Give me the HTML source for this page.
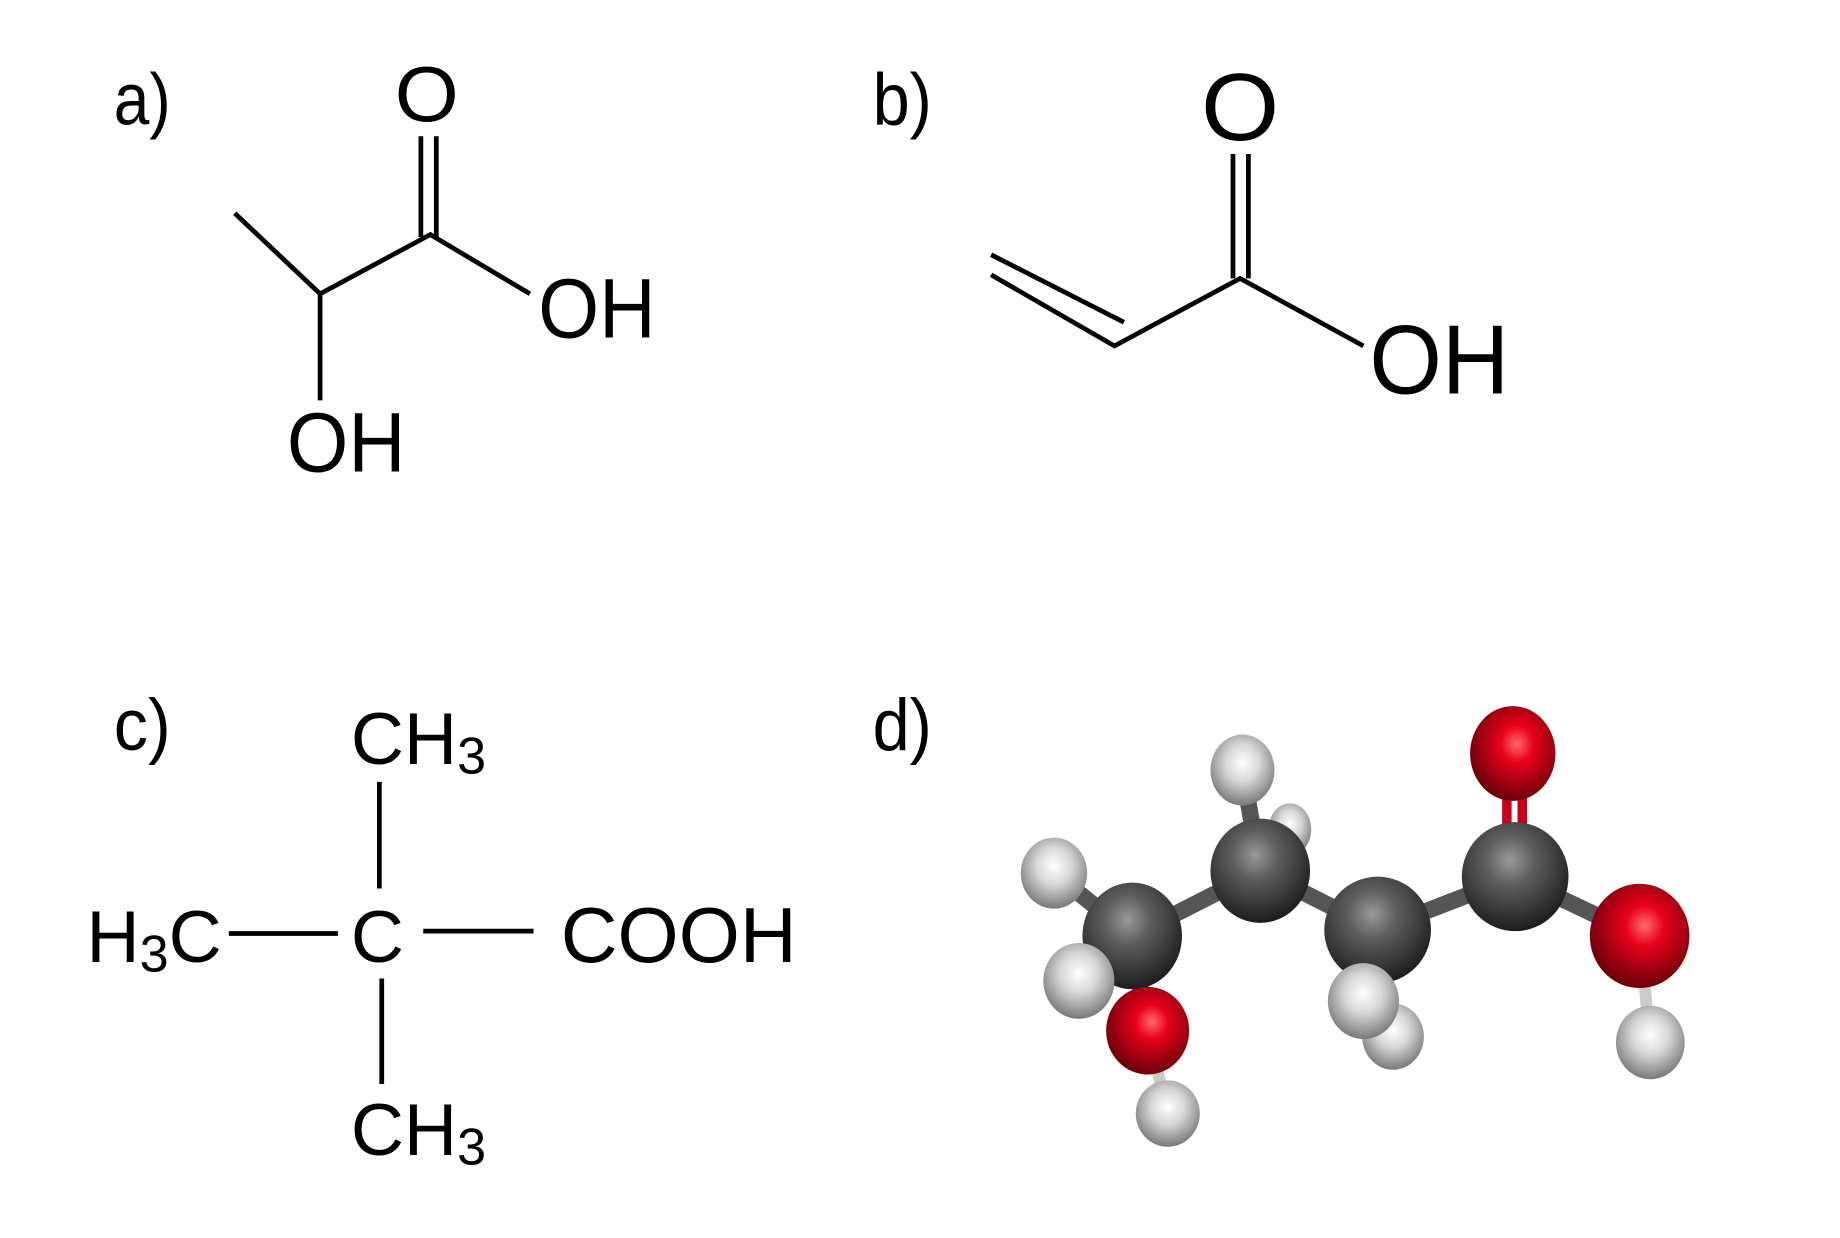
<!DOCTYPE html>
<html><head><meta charset="utf-8"><style>html,body{margin:0;padding:0;background:#fff}svg{display:block}</style></head>
<body>
<svg width="1840" height="1238" viewBox="0 0 1552 1045" preserveAspectRatio="none" xmlns="http://www.w3.org/2000/svg">
<defs>
<radialGradient id="gC" cx="0.45" cy="0.35" r="0.65"><stop offset="0" stop-color="#9a9a9a"/><stop offset="0.35" stop-color="#5e5e5e"/><stop offset="1" stop-color="#1c1c1c"/></radialGradient>
<radialGradient id="gH" cx="0.5" cy="0.4" r="0.65"><stop offset="0" stop-color="#ffffff"/><stop offset="0.4" stop-color="#d8d8d8"/><stop offset="1" stop-color="#6a6a6a"/></radialGradient>
<radialGradient id="gO" cx="0.55" cy="0.4" r="0.65"><stop offset="0" stop-color="#ff6a70"/><stop offset="0.3" stop-color="#e8001a"/><stop offset="1" stop-color="#5a0008"/></radialGradient>
</defs>
<g font-family="Liberation Sans, sans-serif" fill="#000" lengthAdjust="spacingAndGlyphs">
<text x="96" y="105" font-size="62" textLength="48" lengthAdjust="spacingAndGlyphs">a)</text>
<text x="736" y="105" font-size="62" textLength="50" lengthAdjust="spacingAndGlyphs">b)</text>
<text x="96" y="633" font-size="62" textLength="48" lengthAdjust="spacingAndGlyphs">c)</text>
<text x="736" y="633" font-size="62" textLength="50" lengthAdjust="spacingAndGlyphs">d)</text>
</g>
<g stroke="#000" stroke-width="4" fill="none">
<line x1="355" y1="115" x2="355" y2="200"/><line x1="368" y1="115" x2="368" y2="200"/>
<polyline points="198,180 270,248 363,198 447,248"/>
<line x1="270" y1="248" x2="270" y2="338"/>
<line x1="1040" y1="130" x2="1040" y2="235"/><line x1="1053" y1="130" x2="1053" y2="235"/>
<polyline points="836,232 940,292 1046,235 1150,292"/>
<line x1="836" y1="215" x2="948" y2="272"/>
<line x1="320" y1="660" x2="320" y2="750"/>
<line x1="193" y1="788" x2="285" y2="788"/>
<line x1="357" y1="786" x2="450" y2="786"/>
<line x1="322" y1="826" x2="322" y2="915"/>
</g>
<g font-family="Liberation Sans, sans-serif" fill="#000">
<text x="333" y="102" font-size="66" textLength="54" lengthAdjust="spacingAndGlyphs">O</text>
<text x="454" y="285" font-size="71" textLength="99" lengthAdjust="spacingAndGlyphs">OH</text>
<text x="242" y="398" font-size="71" textLength="100" lengthAdjust="spacingAndGlyphs">OH</text>
<text x="1013" y="118" font-size="81" textLength="66" lengthAdjust="spacingAndGlyphs">O</text>
<text x="1155" y="332" font-size="83" textLength="118" lengthAdjust="spacingAndGlyphs">OH</text>
<text x="296" y="645" font-size="62">CH<tspan font-size="44" dy="8">3</tspan></text>
<text x="73" y="812" font-size="62">H<tspan font-size="44" dy="8">3</tspan><tspan dy="-8">C</tspan></text>
<text x="296" y="812" font-size="62">C</text>
<text x="473" y="812" font-size="66" textLength="199" lengthAdjust="spacingAndGlyphs">COOH</text>
<text x="296" y="975" font-size="62">CH<tspan font-size="44" dy="8">3</tspan></text>
</g>
<g stroke-linecap="round">
<g stroke="#555" stroke-width="14">
<line x1="1063" y1="735" x2="1048" y2="650"/>
<line x1="1063" y1="735" x2="1088" y2="700"/>
<line x1="955" y1="790" x2="889" y2="737"/>
<line x1="955" y1="790" x2="910" y2="828"/>
<line x1="955" y1="790" x2="1063" y2="735"/>
<line x1="1063" y1="735" x2="1162" y2="785"/>
<line x1="1162" y1="785" x2="1278" y2="740"/>
<line x1="1162" y1="785" x2="1150" y2="848"/>
<line x1="1162" y1="785" x2="1175" y2="875"/>
<line x1="955" y1="790" x2="968" y2="870"/>
<line x1="1278" y1="740" x2="1383" y2="790"/>
</g>
<g stroke="#c8001a" stroke-width="8">
<line x1="1271" y1="700" x2="1271" y2="660"/><line x1="1284" y1="700" x2="1284" y2="660"/>
</g>
<g stroke="#ccc" stroke-width="10"><line x1="968" y1="870" x2="985" y2="940"/><line x1="1383" y1="790" x2="1392" y2="880"/></g>
</g>
<ellipse cx="1088" cy="700" rx="18" ry="22" fill="url(#gH)"/>
<ellipse cx="1048" cy="650" rx="27" ry="30" fill="url(#gH)"/>
<ellipse cx="889" cy="737" rx="28" ry="30" fill="url(#gH)"/>
<ellipse cx="1063" cy="735" rx="42" ry="44" fill="url(#gC)"/>
<ellipse cx="955" cy="790" rx="42" ry="45" fill="url(#gC)"/>
<ellipse cx="910" cy="828" rx="30" ry="32" fill="url(#gH)"/>
<ellipse cx="985" cy="940" rx="27" ry="28" fill="url(#gH)"/>
<ellipse cx="968" cy="870" rx="35" ry="37" fill="url(#gO)"/>
<ellipse cx="1175" cy="875" rx="26" ry="28" fill="url(#gH)"/>
<ellipse cx="1162" cy="785" rx="45" ry="45" fill="url(#gC)"/>
<ellipse cx="1150" cy="845" rx="30" ry="32" fill="url(#gH)"/>
<ellipse cx="1276" cy="636" rx="36" ry="40" fill="url(#gO)"/>
<ellipse cx="1278" cy="740" rx="45" ry="46" fill="url(#gC)"/>
<ellipse cx="1392" cy="880" rx="29" ry="31" fill="url(#gH)"/>
<ellipse cx="1383" cy="790" rx="42" ry="44" fill="url(#gO)"/>
</svg>
</body></html>
